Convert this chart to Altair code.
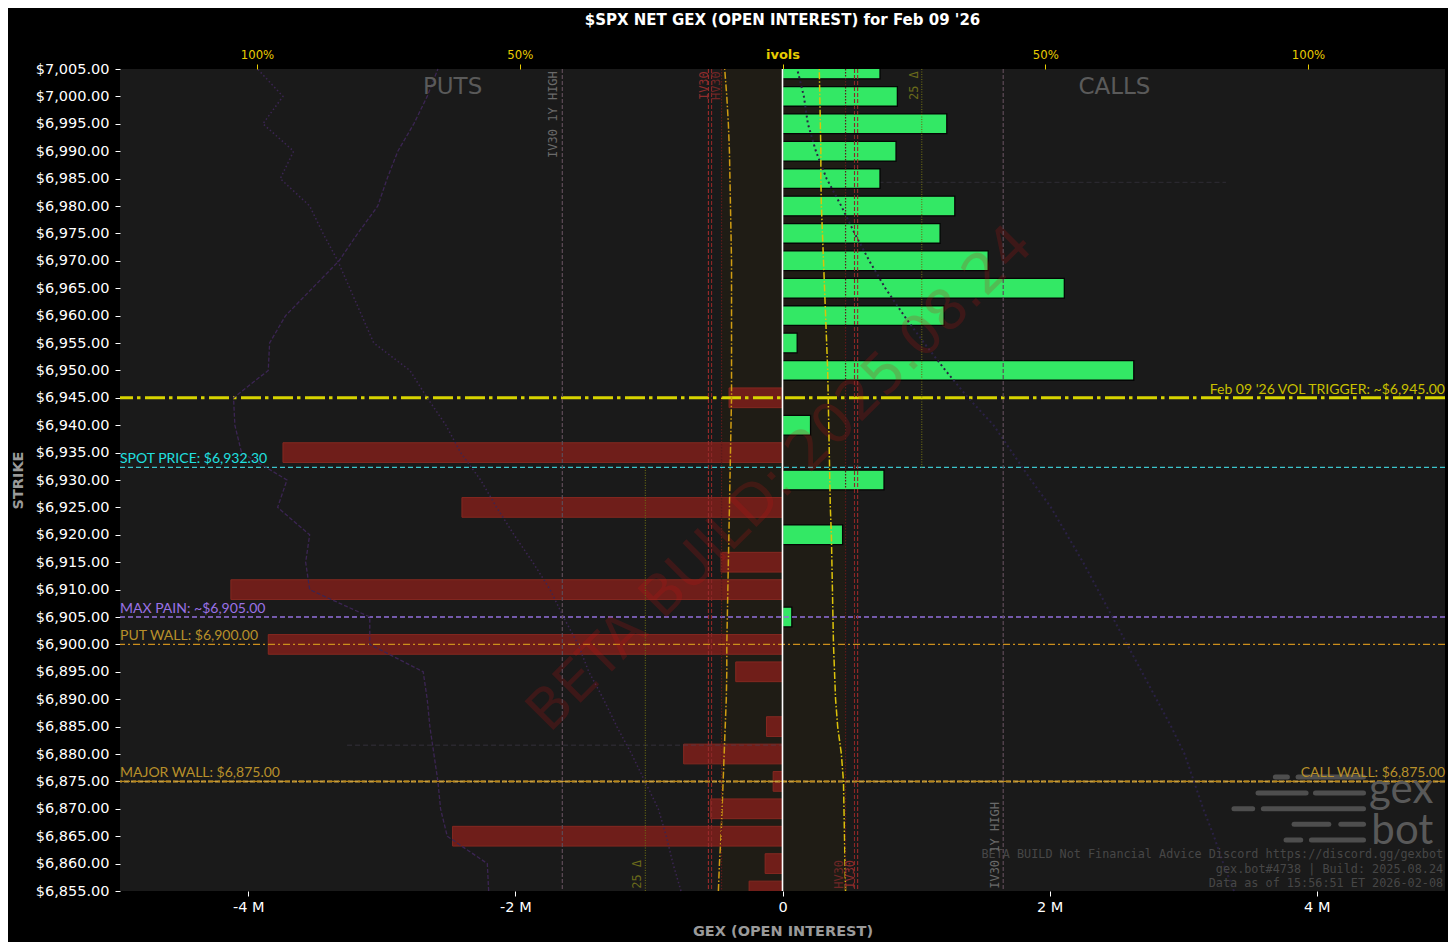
import altair as alt
import pandas as pd

# ---------------- data ----------------
strikes = [7005, 7000, 6995, 6990, 6985, 6980, 6975, 6970, 6965, 6960,
           6955, 6950, 6945, 6940, 6935, 6930, 6925, 6920, 6915, 6910,
           6905, 6900, 6895, 6890, 6885, 6880, 6875, 6870, 6865, 6860, 6855]

# net GEX per strike, millions
net_gex_m = [0.73, 0.86, 1.23, 0.85, 0.73, 1.29, 1.18, 1.54, 2.11, 1.21,
             0.11, 2.63, -0.40, 0.21, -3.74, 0.76, -2.40, 0.45, -0.46, -4.13,
             0.07, -3.85, -0.35, 0.0, -0.12, -0.74, -0.07, -0.54, -2.47, -0.13, -0.25]

# implied vols per strike (fraction), puts drawn to the left, calls to the right
put_ivol = [0.110, 0.106, 0.103, 0.101, 0.100, 0.099, 0.098, 0.097, 0.097, 0.097,
            0.097, 0.097, 0.097, 0.098, 0.099, 0.100, 0.101, 0.102, 0.103, 0.104,
            0.105, 0.106, 0.106, 0.107, 0.109, 0.111, 0.113, 0.115, 0.117, 0.120, 0.122]
call_ivol = [0.070, 0.071, 0.072, 0.073, 0.073, 0.074, 0.076, 0.078, 0.080, 0.082,
             0.084, 0.086, 0.087, 0.088, 0.089, 0.090, 0.091, 0.093, 0.094, 0.095,
             0.096, 0.097, 0.099, 0.101, 0.105, 0.112, 0.116, 0.117, 0.118, 0.119, 0.120]

# profile curves (GEX units, millions)
put_profile_a_m = [-2.58, -2.66, -2.76, -2.88, -2.96, -3.03, -3.18, -3.32, -3.52, -3.72,
                   -3.84, -3.85, -4.11, -4.10, -4.05, -3.71, -3.78, -3.54, -3.57, -3.54,
                   -3.09, -3.09, -2.69, -2.66, -2.64, -2.61, -2.58, -2.56, -2.51, -2.21, -2.20]
put_profile_b_m = [-3.93, -3.74, -3.89, -3.66, -3.76, -3.54, -3.44, -3.33, -3.24, -3.15,
                   -3.06, -2.79, -2.66, -2.52, -2.41, -2.26, -2.14, -2.01, -1.87, -1.74,
                   -1.64, -1.53, -1.45, -1.34, -1.24, -1.13, -1.03, -0.93, -0.87, -0.82, -0.76]
call_profile_m = [0.11, 0.16, 0.19, 0.25, 0.33, 0.44, 0.54, 0.65, 0.77, 0.91,
                  1.06, 1.22, 1.39, 1.58, 1.72, 1.86, 2.01, 2.13, 2.25, 2.36,
                  2.47, 2.58, 2.69, 2.80, 2.91, 3.01, 3.08, 3.15, 3.23, 3.30, 3.38]

title_text = "$SPX NET GEX (OPEN INTEREST) for Feb 09 '26"
vol_trigger = 6945.0
spot_price = 6932.30
max_pain = 6905.0
put_wall = 6900.0
major_wall = 6875.0
call_wall = 6875.0
faint_levels = [(6881.6, -3.26, 0.0), (6984.3, 0.0, 3.32)]

iv30_1y_high = [-0.419, 0.420]
iv30_lines = [-0.141, 0.143]
hv30_lines = [-0.135, 0.137]
inner_lines = [-0.116, 0.120]
delta25 = [-0.261, 0.265]

footer_lines = ["BETA BUILD Not Financial Advice Discord https://discord.gg/gexbot",
                "gex.bot#4738 | Build: 2025.08.24",
                "Data as of 15:56:51 ET 2026-02-08"]
footer_strikes = [6861.7, 6859.0, 6856.4]

logo_rows = [6875.8, 6872.9, 6870.0, 6867.2, 6864.3]
logo_x1 = [[3.69, 3.86], [3.56, 3.99], [3.38, 3.60], [3.83, 4.18], [3.77, 3.96]]
logo_x2 = [[3.78, 4.35], [3.92, 4.35], [3.52, 4.35], [4.09, 4.35], [3.88, 4.35]]

# ---------------- scales ----------------
GEX_DOM = [-4.96e6, 4.96e6]
IV_DOM = [-1.2607, 1.2607]
Y_DOM = [6855, 7005]
xg = alt.Scale(domain=GEX_DOM, nice=False, zero=False)
xi = alt.Scale(domain=IV_DOM, nice=False, zero=False)
ys = alt.Scale(domain=Y_DOM, nice=False, zero=False)

LABEL_FONT = "Lato"
MONO = "DejaVu Sans Mono"
AX_FONT = "DejaVu Sans"


# NOTE: no axis=None on shared scales (it would disable the merged axis)
def Y(field):
    return alt.Y(field, type="quantitative", scale=ys)


def XG(field):
    return alt.X(field, type="quantitative", scale=xg)


def XI(field):
    return alt.X(field, type="quantitative", scale=xi)


def one(**kw):
    return alt.Chart(pd.DataFrame([kw]))


def hline(y, color, width, dash=None, opacity=1.0):
    kw = dict(color=color, strokeWidth=width, opacity=opacity)
    if dash:
        kw["strokeDash"] = dash
    return one(y=y).mark_rule(**kw).encode(y=Y("y"))


def text(t, x, y, color, size, scale="g", align="left", baseline="bottom",
         font=LABEL_FONT, angle=0, dy=0, weight="normal", opacity=1.0):
    m = one(x=x, y=y).mark_text(text=t, color=color, fontSize=size, align=align,
                                baseline=baseline, font=font, angle=angle, dy=dy,
                                fontWeight=weight, opacity=opacity)
    xx = XG("x") if scale == "g" else XI("x")
    return m.encode(x=xx, y=Y("y"))


# ---------------- GEX layer ----------------
bar_df = pd.DataFrame({"strike": strikes, "gex_m": net_gex_m})
base = alt.Chart(bar_df).transform_filter("datum.gex_m != 0").transform_calculate(
    gex="datum.gex_m * 1000000", zero="0", lo="datum.strike - 1.8", hi="datum.strike + 1.8")

x_axis = alt.Axis(values=[-4e6, -2e6, 0, 2e6, 4e6], orient="bottom", tickCount=10,
                  labelExpr="datum.value == 0 ? '0' : (datum.value / 1000000) + ' M'",
                  labelFont=AX_FONT, labelFontSize=14.5, labelColor="white",
                  tickColor="white", tickSize=5, labelPadding=4, domain=False, grid=False,
                  labelOverlap=False,
                  title="GEX (OPEN INTEREST)", titleFont=AX_FONT, titleFontSize=14.5,
                  titleFontWeight="bold", titleColor="#9a9a9a", titlePadding=11)
y_axis = alt.Axis(values=strikes, tickCount=len(strikes) + 5, format="$,.2f", orient="left",
                  labelFont=AX_FONT, labelFontSize=14.5, labelColor="white", tickColor="white",
                  tickSize=5, labelPadding=6, labelOverlap=False, labelBound=False,
                  domain=False, grid=False, title="STRIKE", titleFont=AX_FONT,
                  titleFontSize=14.5, titleFontWeight="bold", titleColor="#9a9a9a",
                  titlePadding=10)

put_bars = base.transform_filter("datum.gex_m < 0").mark_rect(
    clip=True, color="#771f1a", stroke="#8e2a22", strokeWidth=1, opacity=0.92
).encode(x=alt.X("gex:Q", scale=xg, axis=x_axis), x2="zero:Q",
         y=alt.Y("lo:Q", scale=ys, axis=y_axis), y2="hi:Q")
call_bars = base.transform_filter("datum.gex_m > 0").mark_rect(
    clip=True, color="#33e865", stroke="#050505", strokeWidth=1.3
).encode(x=XG("gex"), x2="zero:Q", y=Y("lo"), y2="hi:Q")

prof_df = pd.DataFrame({"strike": strikes,
                        "a": [v * 1e6 for v in put_profile_a_m],
                        "b": [v * 1e6 for v in put_profile_b_m],
                        "c": [v * 1e6 for v in call_profile_m]})


def profile(field, color, dash, width):
    return alt.Chart(prof_df).mark_line(color=color, strokeDash=dash, strokeWidth=width).encode(
        x=XG(field), y=Y("strike"), order=alt.Order("strike:Q"))


faint_df = pd.DataFrame({"y": [f[0] for f in faint_levels],
                         "x1": [f[1] * 1e6 for f in faint_levels],
                         "x2": [f[2] * 1e6 for f in faint_levels]})
faint = alt.Chart(faint_df).mark_rule(color="#4a4458", strokeDash=[5, 3], strokeWidth=1.3,
                                      opacity=0.35).encode(x=XG("x1"), x2="x2:Q", y=Y("y"))

zero_line = one(x=0).mark_rule(color="white", strokeWidth=1.6).encode(x=XG("x"))

# logo
logo_recs = []
for yv, a, b in zip(logo_rows, logo_x1, logo_x2):
    for s, e in zip(a, b):
        logo_recs.append({"y": yv, "x1": s * 1e6, "x2": e * 1e6})
logo = alt.Chart(pd.DataFrame(logo_recs)).mark_rule(
    color="#4e4e4e", strokeWidth=5, strokeCap="round").encode(x=XG("x1"), x2="x2:Q", y=Y("y"))

foot_df = pd.DataFrame({"t": footer_lines, "y": footer_strikes, "x": [4.946e6] * 3})
footer = alt.Chart(foot_df).mark_text(font=MONO, fontSize=11.8, color="#474747",
                                      align="right", baseline="middle").encode(
    x=XG("x"), y=Y("y"), text="t:N")

gex_layer = alt.layer(
    put_bars,
    faint,
    call_bars,
    hline(vol_trigger, "#d8d400", 3, [20, 4.5, 3.5, 4]),
    hline(spot_price, "#3cc4cc", 1.3, [5, 3]),
    hline(max_pain, "#9370db", 1.3, [5, 3]),
    hline(put_wall, "#cc8e1c", 1.3, [7, 3, 2, 3]),
    hline(call_wall, "#caa040", 2, [5, 2]),
    hline(major_wall, "#b8861a", 1.3, [7, 3, 2, 3]),
    profile("a", "#3b2553", [4, 2], 1.3),
    profile("b", "#3b2553", [1.5, 2.5], 1.5),
    profile("c", "#2a2145", [2, 3], 2),
    zero_line,
    text("PUTS", -2.47e6, 7001.7, "#5a5a5a", 23, align="center", baseline="middle", font=AX_FONT),
    text("CALLS", 2.485e6, 7001.7, "#5a5a5a", 23, align="center", baseline="middle", font=AX_FONT),
    text("Feb 09 '26 VOL TRIGGER: ~$6,945.00", GEX_DOM[1], vol_trigger, "#c9c000", 14, align="right", dy=-1),
    text("SPOT PRICE: $6,932.30", GEX_DOM[0], spot_price, "#20e0e0", 14, dy=-1),
    text("MAX PAIN: ~$6,905.00", GEX_DOM[0], max_pain, "#9a72e6", 14, dy=-1),
    text("PUT WALL: $6,900.00", GEX_DOM[0], put_wall, "#b8902a", 14, dy=-1),
    text("MAJOR WALL: $6,875.00", GEX_DOM[0], major_wall, "#b8902a", 14, dy=-1),
    logo,
    text("gex", 4.873e6, 6871.0, "#595959", 42, align="right", baseline="alphabetic"),
    text("bot", 4.873e6, 6863.6, "#595959", 42, align="right", baseline="alphabetic"),
    text("CALL WALL: $6,875.00", GEX_DOM[1], call_wall, "#b8902a", 14, align="right", dy=-1),
    footer,
    text("BETA BUILD: 2025.08.24", -0.015e6, 6930.2, "#c81414", 56, align="center",
         baseline="middle", font=AX_FONT, angle=315, opacity=0.2),
)

# ---------------- ivol layers ----------------
band = one(x1=inner_lines[0], x2=inner_lines[1], y1=Y_DOM[0], y2=Y_DOM[1]).mark_rect(
    color="#1f1c15").encode(x=alt.X("x1:Q", scale=xi, axis=None), x2="x2:Q",
                            y=Y("y1"), y2="y2:Q")
ivol_back = alt.layer(band)

iv_df = pd.DataFrame({"strike": strikes, "put": put_ivol, "call": call_ivol})
top_axis = alt.Axis(orient="top", values=[-1, -0.5, 0, 0.5, 1], tickCount=10,
                    labelExpr="datum.value == 0 ? 'ivols' : format(abs(datum.value) * 100, 'd') + '%'",
                    labelFont={"condition": {"test": "datum.value == 0", "value": "DejaVu Sans"},
                               "value": "DejaVu Sans Condensed, DejaVu Sans"},
                    labelFontWeight={"condition": {"test": "datum.value == 0", "value": "bold"},
                                     "value": "normal"},
                    labelFontSize=13, labelColor="#e8cc00", tickColor="#e8cc00", tickSize=5,
                    labelPadding=3, labelOverlap=False, domain=False, grid=False, title="")
put_iv = alt.Chart(iv_df).transform_calculate(pos="-datum.put").mark_line(
    color="#cf9c12", strokeDash=[7, 2, 1.5, 2], strokeWidth=1.5).encode(
    x=alt.X("pos:Q", scale=xi, axis=top_axis), y=Y("strike"), order=alt.Order("strike:Q"))
call_iv = alt.Chart(iv_df).mark_line(color="#dcc20a", strokeDash=[7, 2, 1.5, 2], strokeWidth=1.5).encode(
    x=XI("call"), y=Y("strike"), order=alt.Order("strike:Q"))


def vline(x, color, width, dash, y1=None, y2=None, opacity=1.0):
    if y1 is None:
        return one(x=x).mark_rule(color=color, strokeWidth=width, strokeDash=dash,
                                  opacity=opacity).encode(x=XI("x"))
    return one(x=x, y1=y1, y2=y2).mark_rule(color=color, strokeWidth=width, strokeDash=dash,
                                            opacity=opacity).encode(x=XI("x"), y=Y("y1"), y2="y2:Q")


vlines = []
for v in iv30_1y_high:
    vlines.append(vline(v, "#5e4c58", 1.2, [4, 2]))
for v in iv30_lines:
    vlines.append(vline(v, "#9a2a2a", 1.1, [4, 2]))
for v in hv30_lines:
    vlines.append(vline(v, "#8a2626", 1.1, [4, 2]))
for v in inner_lines:
    vlines.append(vline(v, "#5e1a1a", 1.2, [1.5, 1.5]))
vlines.append(vline(delta25[0], "#6b6b12", 1.1, [1, 1.5], Y_DOM[0], spot_price))
vlines.append(vline(delta25[1], "#6b6b12", 1.1, [1, 1.5], spot_price, Y_DOM[1]))

iv_texts = [
    text("IV30 1Y HIGH", -0.436, 7004.6, "#6a6a6a", 12, scale="i", align="right",
         baseline="middle", font=MONO, angle=270),
    text("IV30 1Y HIGH", 0.405, 6855.4, "#6a6a6a", 12, scale="i", align="left",
         baseline="middle", font=MONO, angle=270),
    text("IV30", -0.150, 7004.6, "#8e2c2c", 12, scale="i", align="right",
         baseline="middle", font=MONO, angle=270),
    text("HV30", -0.127, 7004.6, "#6e2626", 12, scale="i", align="right",
         baseline="middle", font=MONO, angle=270),
    text("HV30", 0.1066, 6855.4, "#6e2626", 12, scale="i", align="left",
         baseline="middle", font=MONO, angle=270),
    text("IV30", 0.129, 6855.4, "#8e2c2c", 12, scale="i", align="left",
         baseline="middle", font=MONO, angle=270),
    text("25 Δ", 0.251, 7004.6, "#6b6b1a", 12, scale="i", align="right",
         baseline="middle", font=MONO, angle=270),
    text("25 Δ", -0.276, 6855.4, "#6b6b1a", 12, scale="i", align="left",
         baseline="middle", font=MONO, angle=270),
]

ivol_front = alt.layer(put_iv, call_iv, *vlines, *iv_texts)

chart = alt.layer(ivol_back, gex_layer, ivol_front).resolve_scale(x="independent").properties(
    width=1325, height=822,
    autosize=alt.AutoSizeParams(type="none"),
    padding={"left": 112, "top": 61, "right": 3, "bottom": 51},
    background="#000000",
    title=alt.TitleParams(text=title_text, anchor="middle", frame="group", font=AX_FONT,
                          fontSize=15, fontWeight="bold", color="white", offset=20),
).configure_view(fill="#1a1a1a", strokeWidth=0).configure_axis(grid=False)

chart.save("out.html", embed_options={"renderer": "svg", "actions": False})
